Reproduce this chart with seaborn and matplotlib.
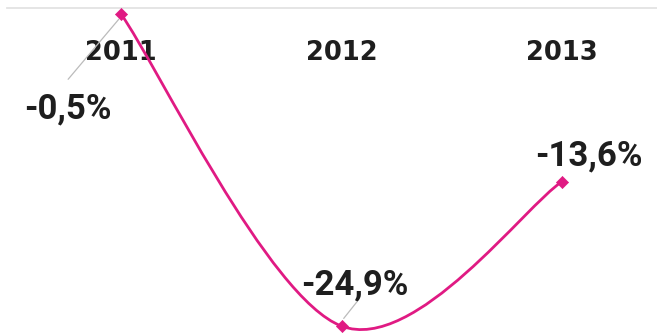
import matplotlib
matplotlib.use('Agg')
import matplotlib.pyplot as plt
import seaborn as sns
import pandas as pd
from matplotlib.path import Path
from matplotlib.patches import PathPatch

sns.set_theme(style="white")

# Data
years = ['2011', '2012', '2013']
change = [-0.5, -24.9, -13.6]
labels = ['-0,5%', '-24,9%', '-13,6%']

pink = '#E01A83'
text_col = '#1E1E1E'

df = pd.DataFrame({'pos': range(len(years)), 'year': years, 'change': change})

fig = plt.figure(figsize=(6.57, 3.33), dpi=100)
ax = fig.add_axes([0, 0, 1, 1])

# Smoothed line (Excel-like Catmull-Rom bezier through the points)
pts = list(zip(df['pos'], df['change']))
ext = [pts[0]] + pts + [pts[-1]]
verts = [pts[0]]
codes = [Path.MOVETO]
for i in range(1, len(ext) - 2):
    p0, p1, p2, p3 = ext[i - 1], ext[i], ext[i + 1], ext[i + 2]
    c1 = (p1[0] + (p2[0] - p0[0]) / 6, p1[1] + (p2[1] - p0[1]) / 6)
    c2 = (p2[0] - (p3[0] - p1[0]) / 6, p2[1] - (p3[1] - p1[1]) / 6)
    verts += [c1, c2, p2]
    codes += [Path.CURVE4] * 3
ax.add_patch(PathPatch(Path(verts, codes), facecolor='none', edgecolor=pink,
                       lw=2.0, zorder=3, capstyle='round'))

sns.scatterplot(data=df, x='pos', y='change', marker='D', s=38, color=pink,
                edgecolor=pink, ax=ax, zorder=4, legend=False)

# Data labels
label_pos = [(-0.24, -7.9), (0.06, -21.7), (0.12, -11.6)]
for i, lab in enumerate(labels):
    dx, ly = label_pos[i]
    ax.text(df['pos'][i] + dx, ly, lab, ha='center', va='center',
            fontsize=25, fontweight='bold', family='Roboto', color=text_col, zorder=5)

# Leader lines
ax.plot([-0.24, -0.01], [-5.6, -0.9], color='#BBBBBB', lw=0.9, zorder=2)
ax.plot([1.07, 1.01], [-23.0, -24.3], color='#BBBBBB', lw=0.9, zorder=2)

# Axis at zero with category labels below it
ax.set_xlim(-0.549, 2.431)
ax.set_ylim(-25.44, 0.6)
for s in ['top', 'left', 'right']:
    ax.spines[s].set_visible(False)
ax.spines['bottom'].set_position(('data', 0))
ax.spines['bottom'].set_color('#E3E3E3')
ax.spines['bottom'].set_linewidth(1.3)
ax.spines['bottom'].set_bounds(-0.515, 2.431)
ax.set_xticks(df['pos'])
ax.set_xticklabels(years, fontsize=18.5, fontweight='bold', color=text_col)
ax.tick_params(axis='x', length=0, pad=23)
ax.set_yticks([])
ax.set_xlabel('')
ax.set_ylabel('')
ax.set_facecolor('white')

fig.savefig('out.png', dpi=100, facecolor='white')
